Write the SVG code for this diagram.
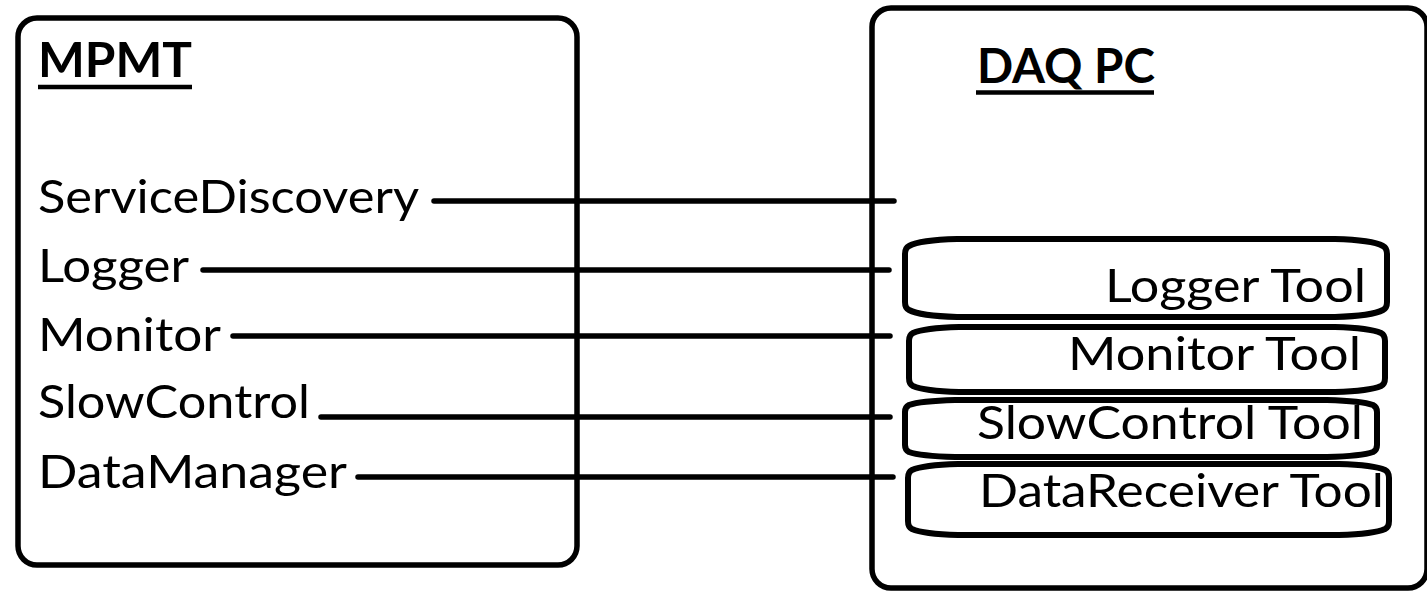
<svg xmlns="http://www.w3.org/2000/svg" width="1427" height="593" viewBox="0 0 1427 593">
<style>
.frame{fill:none;stroke:#000;stroke-width:5.5}
.tool{fill:none;stroke:#000;stroke-width:6}
.conn{stroke:#000;stroke-width:5.5;stroke-linecap:round;fill:none}
.lbl{font-family:Lato,"Open Sans","Liberation Sans",sans-serif;font-size:47px;fill:#000}
.ttl{font-family:Lato,"Open Sans","Liberation Sans",sans-serif;font-size:48px;font-weight:bold;fill:#000}
.ul{stroke:#000;stroke-width:4.5}
</style>
<rect width="1427" height="593" fill="#fff"/>
<g id="mpmt">
<rect class="frame" x="18" y="18" width="559" height="547" rx="19"/>
<text class="ttl" x="38" y="77" textLength="154" lengthAdjust="spacingAndGlyphs">MPMT</text>
<line class="ul" x1="38" y1="87" x2="192" y2="87"/>
<text class="lbl" x="38" y="213" textLength="381" lengthAdjust="spacingAndGlyphs">ServiceDiscovery</text>
<text class="lbl" x="38" y="282" textLength="151" lengthAdjust="spacingAndGlyphs">Logger</text>
<text class="lbl" x="38" y="351" textLength="183" lengthAdjust="spacingAndGlyphs">Monitor</text>
<text class="lbl" x="38" y="418" textLength="272" lengthAdjust="spacingAndGlyphs">SlowControl</text>
<text class="lbl" x="38" y="488" textLength="309" lengthAdjust="spacingAndGlyphs">DataManager</text>
</g>
<g id="daq">
<rect class="frame" x="872" y="8" width="555" height="580" rx="19"/>
<text class="ttl" x="977" y="83" textLength="178" lengthAdjust="spacingAndGlyphs">DAQ PC</text>
<line class="ul" x1="976" y1="92.5" x2="1154" y2="92.5"/>
</g>
<g id="logger-tool">
<path class="tool" d="M957,239 H1335 Q1372,240 1383,246 Q1387,248 1387,254 V302 Q1387,308 1383,310 Q1372,316 1335,317 H957 Q920,316 909,310 Q905,308 905,302 V254 Q905,248 909,246 Q920,240 957,239 Z"/>
<text class="lbl" x="1105" y="302" textLength="261" lengthAdjust="spacingAndGlyphs">Logger Tool</text>
</g>
<g id="monitor-tool">
<path class="tool" d="M959,327 H1335 Q1370,328 1381,333 Q1385,335 1385,341 V378 Q1385,384 1381,386 Q1370,391 1335,392 H959 Q924,391 913,386 Q909,384 909,378 V341 Q909,335 913,333 Q924,328 959,327 Z"/>
<text class="lbl" x="1068" y="370" textLength="293" lengthAdjust="spacingAndGlyphs">Monitor Tool</text>
</g>
<g id="slowcontrol-tool">
<path class="tool" d="M955,400 H1327 Q1362,401 1373,405 Q1377,407 1377,412 V445 Q1377,450 1373,452 Q1362,456 1327,457 H955 Q920,456 909,452 Q905,450 905,445 V412 Q905,407 909,405 Q920,401 955,400 Z"/>
<text class="lbl" x="977" y="439" textLength="386" lengthAdjust="spacingAndGlyphs">SlowControl Tool</text>
</g>
<g id="datareceiver-tool">
<path class="tool" d="M958,464 H1339 Q1374,465 1385,470 Q1389,472 1389,478 V521 Q1389,527 1385,529 Q1374,534 1339,535 H958 Q923,534 912,529 Q908,527 908,521 V478 Q908,472 912,470 Q923,465 958,464 Z"/>
<text class="lbl" x="979" y="507" textLength="405" lengthAdjust="spacingAndGlyphs">DataReceiver Tool</text>
</g>
<g id="connectors">
<line class="conn" x1="434" y1="201" x2="894" y2="201"/>
<line class="conn" x1="203" y1="270" x2="889" y2="270"/>
<line class="conn" x1="233" y1="336" x2="890" y2="336"/>
<line class="conn" x1="321" y1="417" x2="890" y2="417"/>
<line class="conn" x1="358" y1="477" x2="893" y2="477"/>
</g>
</svg>
